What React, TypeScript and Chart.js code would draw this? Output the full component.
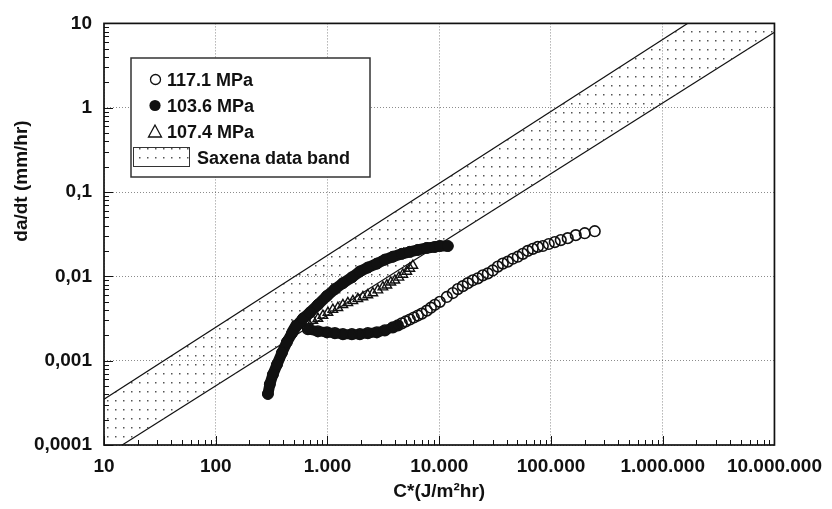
import React, { useEffect, useRef } from 'react';
import { Chart, registerables } from 'chart.js';

Chart.register(...registerables);

// ---------- data ----------
const xDecades = [10, 100, 1e3, 1e4, 1e5, 1e6, 1e7];
const xTickLabels = ['10', '100', '1.000', '10.000', '100.000', '1.000.000', '10.000.000'];
const yDecades = [1e-4, 1e-3, 1e-2, 1e-1, 1, 10];
const yTickLabels = ['0,0001', '0,001', '0,01', '0,1', '1', '10'];

const xTitle = 'C*(J/m²hr)';
const yTitle = 'da/dt (mm/hr)';
const legendLabels = ['117.1 MPa', '103.6 MPa', '107.4 MPa', 'Saxena data band'];

// 103.6 MPa (filled circles)
const c103 = [293, 305, 325, 353, 391, 433, 481, 533, 603, 696, 821, 988, 1165, 1374, 1652, 1949, 2297, 2767, 3260, 3846, 4625, 5458, 6442, 7745, 9141, 10120, 11940];
const r103 = [4.03e-4, 5.26e-4, 6.87e-4, 8.98e-4, 1.24e-3, 1.66e-3, 2.12e-3, 2.62e-3, 3.16e-3, 3.72e-3, 4.6e-3, 5.85e-3, 7.06e-3, 8.3e-3, 9.73e-3, 0.01143, 0.01273, 0.01416, 0.01578, 0.0171, 0.0185, 0.01954, 0.0206, 0.02174, 0.02234, 0.0229, 0.0229];

// 117.1 MPa (open circles)
const c117 = [668, 821, 988, 1165, 1374, 1652, 1949, 2297, 2767, 3260, 3846, 4266, 4625, 5023, 5458, 5929, 6442, 6982, 7745, 8414, 9141, 10120, 11690, 13240, 14660, 16260, 18030, 19990, 22140, 24550, 27220, 30130, 33420, 37050, 41080, 45500, 50470, 55980, 61940, 68710, 76210, 84530, 95500, 108100, 122400, 141300, 166700, 200500, 246500];
const r117 = [2.36e-3, 2.23e-3, 2.17e-3, 2.12e-3, 2.06e-3, 2.06e-3, 2.06e-3, 2.12e-3, 2.17e-3, 2.29e-3, 2.48e-3, 2.62e-3, 2.77e-3, 2.92e-3, 3.08e-3, 3.25e-3, 3.43e-3, 3.61e-3, 3.92e-3, 4.25e-3, 4.6e-3, 4.99e-3, 5.7e-3, 6.34e-3, 7.06e-3, 7.65e-3, 8.3e-3, 8.98e-3, 9.48e-3, 0.01028, 0.01084, 0.01175, 0.01306, 0.01416, 0.01493, 0.01618, 0.0171, 0.0185, 0.02005, 0.0212, 0.02234, 0.0229, 0.0242, 0.0255, 0.0269, 0.0284, 0.0308, 0.0325, 0.0343];

// 107.4 MPa (open triangles)
const c107 = [491, 543, 603, 668, 740, 821, 910, 1009, 1117, 1239, 1374, 1521, 1687, 1871, 2074, 2297, 2547, 2825, 3133, 3399, 3690, 4009, 4355, 4721, 5129, 5458, 5808];
const r107 = [2.55e-3, 2.69e-3, 2.77e-3, 2.84e-3, 3.0e-3, 3.16e-3, 3.43e-3, 3.72e-3, 4.03e-3, 4.25e-3, 4.6e-3, 4.85e-3, 5.12e-3, 5.41e-3, 5.7e-3, 6.01e-3, 6.34e-3, 6.87e-3, 7.45e-3, 7.86e-3, 8.51e-3, 8.98e-3, 9.73e-3, 0.01054, 0.01143, 0.01239, 0.01343];

// Saxena data band limits
const bandC = [10, 1e7];
const bandUpper = [3.5e-4, 46];
const bandLower = [7.3e-5, 7.85];

const FONT = '"Liberation Sans", Arial, Helvetica, sans-serif';
const INK = '#111';

function pairs(xs: number[], ys: number[]) {
  return xs.map((x, i) => ({ x, y: ys[i] }));
}

function makeDots(): CanvasPattern | string {
  const c = document.createElement('canvas');
  c.width = 8;
  c.height = 9;
  const g = c.getContext('2d');
  if (!g) return '#ddd';
  g.fillStyle = '#555';
  g.fillRect(3, 4, 1.5, 1.5);
  return g.createPattern(c, 'repeat') || '#ddd';
}

export default function App() {
  const ref = useRef<HTMLCanvasElement>(null);

  useEffect(() => {
    const canvas = ref.current;
    if (!canvas) return;
    const dots = makeDots();

    const decor = {
      id: 'decor',
      afterDatasetsDraw(chart: any) {
        const { ctx, chartArea: a, scales } = chart;
        const x = scales.x;
        const y = scales.y;
        ctx.save();
        ctx.strokeStyle = INK;
        ctx.lineWidth = 1;
        ctx.beginPath();
        for (let d = 1; d <= 7; d++) {
          for (let m = 1; m <= 9; m++) {
            const v = m * Math.pow(10, d);
            if (v > 1e7 * 1.0001) break;
            const px = Math.round(x.getPixelForValue(v)) + 0.5;
            const len = m === 1 ? 9 : 5;
            ctx.moveTo(px, a.bottom);
            ctx.lineTo(px, a.bottom - len);
          }
        }
        for (let d = -4; d <= 1; d++) {
          for (let m = 1; m <= 9; m++) {
            const v = m * Math.pow(10, d);
            if (v > 10 * 1.0001) break;
            const py = Math.round(y.getPixelForValue(v)) + 0.5;
            const len = m === 1 ? 9 : 5;
            ctx.moveTo(a.left, py);
            ctx.lineTo(a.left + len, py);
          }
        }
        ctx.stroke();
        ctx.lineWidth = 1.7;
        ctx.strokeRect(a.left, a.top, a.right - a.left, a.bottom - a.top);
        ctx.restore();
      },
      afterDraw(chart: any) {
        const { ctx } = chart;
        ctx.save();
        // y axis title
        ctx.translate(22, 181);
        ctx.rotate(-Math.PI / 2);
        ctx.fillStyle = INK;
        ctx.font = `bold 19px ${FONT}`;
        ctx.textAlign = 'center';
        ctx.textBaseline = 'middle';
        ctx.fillText(yTitle, 0, 0);
        ctx.restore();

        // legend box
        ctx.save();
        const L = 131, T = 58, R = 370, B = 177;
        ctx.fillStyle = '#fff';
        ctx.fillRect(L, T, R - L, B - T);
        ctx.strokeStyle = '#333';
        ctx.lineWidth = 1.5;
        ctx.strokeRect(L, T, R - L, B - T);

        ctx.font = `bold 18px ${FONT}`;
        ctx.fillStyle = INK;
        ctx.textAlign = 'left';
        ctx.textBaseline = 'alphabetic';
        const rows = [79.5, 105.5, 131, 157];
        // open circle
        ctx.strokeStyle = INK;
        ctx.lineWidth = 1.3;
        ctx.beginPath();
        ctx.arc(155.5, rows[0], 5, 0, Math.PI * 2);
        ctx.stroke();
        // filled circle
        ctx.beginPath();
        ctx.arc(155, rows[1], 5.6, 0, Math.PI * 2);
        ctx.fill();
        // triangle
        ctx.beginPath();
        ctx.moveTo(155, rows[2] - 6);
        ctx.lineTo(148.5, rows[2] + 6);
        ctx.lineTo(161.5, rows[2] + 6);
        ctx.closePath();
        ctx.stroke();
        // dotted swatch
        ctx.fillStyle = dots as any;
        ctx.fillRect(133, 147, 56, 19);
        ctx.lineWidth = 1;
        ctx.strokeStyle = '#333';
        ctx.strokeRect(133.5, 147.5, 56, 19);

        ctx.fillStyle = INK;
        ctx.fillText(legendLabels[0], 167, rows[0] + 6.5);
        ctx.fillText(legendLabels[1], 167, rows[1] + 6.5);
        ctx.fillText(legendLabels[2], 167, rows[2] + 6.5);
        ctx.fillText(legendLabels[3], 197, rows[3] + 6.5);
        ctx.restore();
      },
    };

    const chart = new Chart(canvas, {
      type: 'scatter',
      data: {
        datasets: [
          {
            label: legendLabels[1],
            data: pairs(c103, r103),
            showLine: true,
            borderColor: INK,
            borderWidth: 11,
            borderCapStyle: 'round',
            borderJoinStyle: 'round',
            pointStyle: 'circle',
            pointRadius: 5.5,
            pointBackgroundColor: INK,
            pointBorderColor: INK,
            pointBorderWidth: 1,
          } as any,
          {
            label: legendLabels[0],
            data: pairs(c117, r117),
            showLine: true,
            borderColor: INK,
            borderWidth: 10,
            borderCapStyle: 'round',
            borderJoinStyle: 'round',
            segment: {
              borderColor: (ctx: any) => (ctx.p0.parsed.x < 3900 ? INK : 'rgba(0,0,0,0)'),
              borderWidth: (ctx: any) => (ctx.p0.parsed.x < 3900 ? 10 : 1),
            },
            pointStyle: 'circle',
            pointRadius: 5.3,
            pointBackgroundColor: 'rgba(0,0,0,0)',
            pointBorderColor: INK,
            pointBorderWidth: 1.6,
          } as any,
          {
            label: legendLabels[2],
            data: pairs(c107, r107),
            showLine: false,
            pointStyle: 'triangle',
            pointRadius: 5.5,
            pointBackgroundColor: 'rgba(0,0,0,0)',
            pointBorderColor: INK,
            pointBorderWidth: 1.4,
          } as any,
          {
            label: 'upper',
            data: pairs(bandC, bandUpper),
            showLine: true,
            borderColor: INK,
            borderWidth: 1.2,
            pointRadius: 0,
            backgroundColor: dots as any,
            fill: '+1',
            clip: 0,
          } as any,
          {
            label: legendLabels[3],
            data: pairs(bandC, bandLower),
            showLine: true,
            borderColor: INK,
            borderWidth: 1.2,
            pointRadius: 0,
            fill: false,
            clip: 0,
          } as any,
        ],
      },
      options: {
        animation: false,
        responsive: false,
        devicePixelRatio: 1,
        events: [],
        layout: { padding: { left: 0, right: 56, top: 14, bottom: 0 } },
        plugins: {
          legend: { display: false },
          tooltip: { enabled: false },
        },
        scales: {
          x: {
            type: 'logarithmic',
            position: 'bottom',
            min: 10,
            max: 1e7,
            afterBuildTicks: (s: any) => {
              s.ticks = xDecades.map((v) => ({ value: v }));
            },
            afterFit: (s: any) => {
              s.height = 64;
            },
            ticks: {
              autoSkip: false,
              maxRotation: 0,
              padding: 10,
              color: INK,
              font: { family: FONT, size: 19, weight: 'bold' },
              callback: (_v: any, i: number) => xTickLabels[i],
            },
            grid: { color: 'rgba(0,0,0,0.45)', lineWidth: 1, drawTicks: false },
            border: { display: false, dash: [1, 2] },
            title: {
              display: true,
              text: xTitle,
              color: INK,
              font: { family: FONT, size: 19, weight: 'bold' },
              padding: { top: 0, bottom: 6 },
            },
          },
          y: {
            type: 'logarithmic',
            position: 'left',
            min: 1e-4,
            max: 10,
            afterBuildTicks: (s: any) => {
              s.ticks = yDecades.map((v) => ({ value: v }));
            },
            afterFit: (s: any) => {
              s.width = 104;
            },
            ticks: {
              autoSkip: false,
              padding: 12,
              color: INK,
              font: { family: FONT, size: 19, weight: 'bold' },
              callback: (_v: any, i: number) => yTickLabels[i],
            },
            grid: { color: 'rgba(0,0,0,0.45)', lineWidth: 1, drawTicks: false },
            border: { display: false, dash: [1, 2] },
          },
        },
      } as any,
      plugins: [decor],
    });

    return () => chart.destroy();
  }, []);

  return (
    <div style={{ position: 'absolute', left: 0, top: 0, width: 832, height: 509, background: '#fff' }}>
      <canvas ref={ref} width={832} height={509} style={{ width: 832, height: 509, display: 'block' }} />
    </div>
  );
}
